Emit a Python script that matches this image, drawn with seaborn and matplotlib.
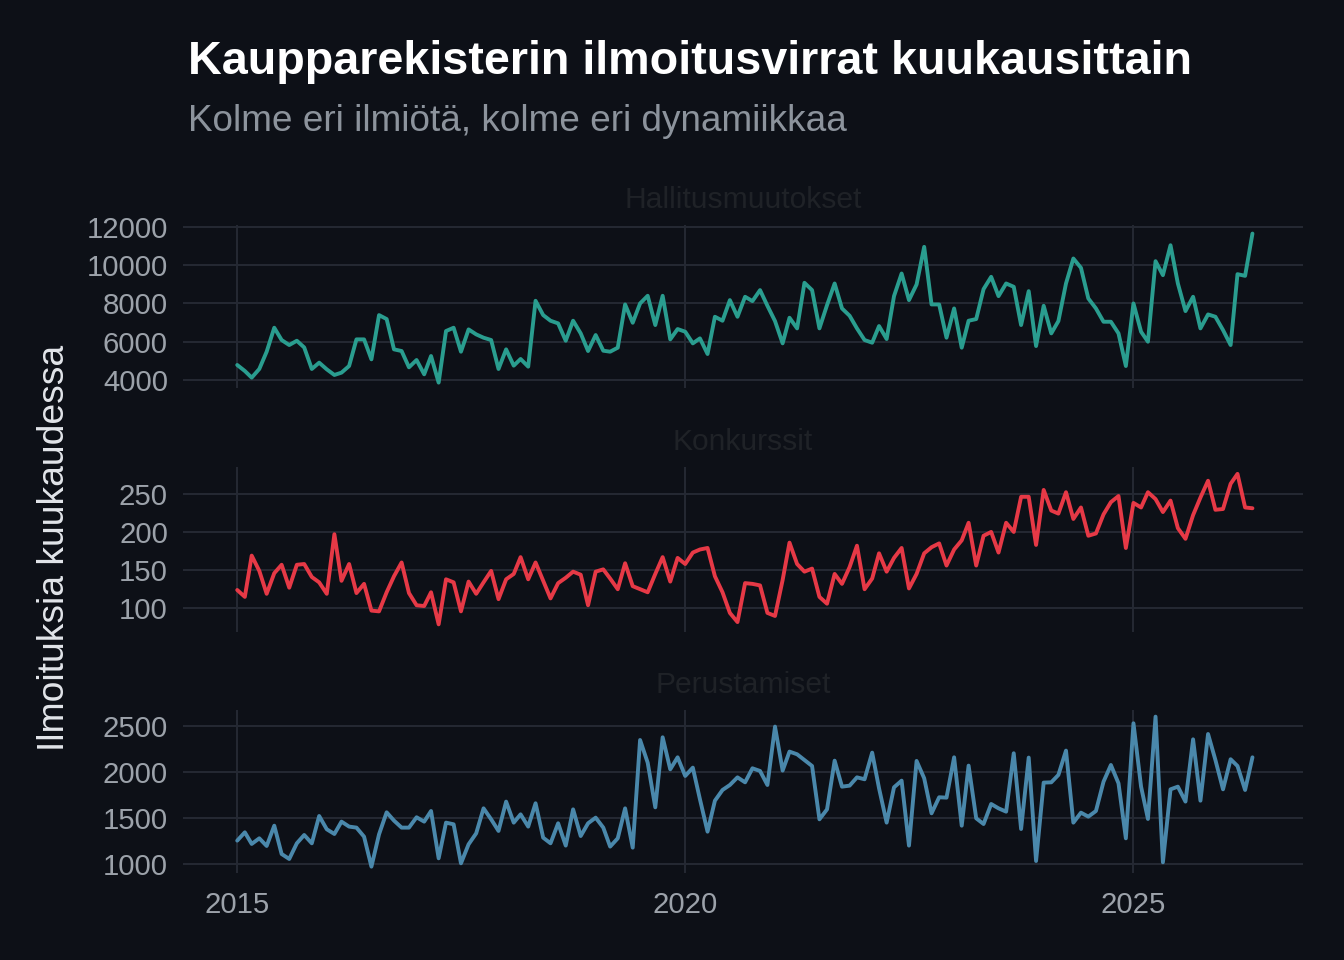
import numpy as np
import pandas as pd
import matplotlib
matplotlib.use("Agg")
import matplotlib.pyplot as plt
import matplotlib.dates as mdates
import seaborn as sns

# monthly values, 2015-01 .. 2026-05
months = pd.date_range("2015-01-01", "2026-05-01", freq="MS")

hallitusmuutokset = [
    4783, 4470, 4122, 4574, 5478, 6730, 6087, 5826, 6050, 5700,
    4574, 4904, 4556, 4261, 4383, 4730, 6122, 6122, 5078, 7391,
    7183, 5600, 5513, 4661, 5043, 4296, 5252, 3861, 6557, 6730,
    5478, 6643, 6383, 6209, 6087, 4574, 5600, 4748, 5096, 4696,
    8139, 7391, 7096, 6957, 6050, 7096, 6435, 5513, 6348, 5530,
    5478, 5687, 7948, 6991, 8000, 8400, 6870, 8400, 6122, 6661,
    6522, 5913, 6174, 5357, 7304, 7096, 8174, 7304, 8348, 8122,
    8696, 7878, 7078, 5913, 7252, 6696, 9078, 8696, 6696, 7913,
    9043, 7739, 7357, 6696, 6087, 5948, 6817, 6139, 8383, 9565,
    8174, 8991, 10957, 7948, 7948, 6209, 7739, 5687, 7096, 7183,
    8748, 9391, 8383, 9043, 8870, 6870, 8643, 5774, 7878, 6435,
    7078, 9043, 10348, 9861, 8261, 7739, 7043, 7043, 6435, 4730,
    8000, 6522, 6000, 10209, 9478, 11043, 9043, 7600, 8348, 6696,
    7426, 7304, 6609, 5826, 9530, 9443, 11652,
]

konkurssit = [
    124, 115, 169, 149, 119, 146, 157, 127, 157, 158,
    141, 134, 119, 197, 136, 158, 120, 132, 97, 96,
    121, 142, 160, 120, 104, 103, 121, 79, 138, 134,
    96, 135, 119, 134, 149, 112, 138, 145, 167, 138,
    160, 136, 113, 133, 140, 148, 144, 104, 148, 151,
    139, 125, 159, 129, 125, 121, 145, 167, 135, 166,
    158, 173, 177, 179, 142, 121, 94, 82, 133, 132,
    130, 94, 90, 137, 186, 158, 148, 152, 115, 106,
    145, 132, 154, 182, 125, 139, 172, 148, 166, 179,
    126, 145, 172, 180, 185, 156, 177, 189, 212, 156,
    195, 200, 173, 212, 200, 246, 246, 183, 255, 228,
    224, 252, 217, 232, 195, 198, 223, 239, 247, 179,
    238, 232, 252, 243, 226, 241, 205, 191, 222, 245,
    267, 229, 230, 263, 276, 232, 231,
]

perustamiset = [
    1257, 1347, 1221, 1282, 1199, 1419, 1112, 1058, 1228, 1318,
    1228, 1524, 1380, 1329, 1463, 1409, 1398, 1300, 975, 1325,
    1564, 1474, 1398, 1398, 1510, 1463, 1578, 1065, 1452, 1434,
    1011, 1217, 1336, 1607, 1488, 1362, 1680, 1452, 1542, 1409,
    1662, 1289, 1228, 1445, 1203, 1596, 1307, 1445, 1506, 1398,
    1192, 1282, 1607, 1181, 2348, 2102, 1618, 2377, 2030, 2160,
    1958, 2048, 1705, 1354, 1690, 1806, 1860, 1943, 1889, 2041,
    2012, 1860, 2493, 2016, 2222, 2193, 2131, 2066, 1488, 1596,
    2124, 1842, 1853, 1943, 1922, 2211, 1824, 1452, 1835, 1907,
    1203, 2121, 1933, 1553, 1727, 1723, 2160, 1419, 2070, 1499,
    1437, 1654, 1607, 1571, 2204, 1383, 2157, 1036, 1886, 1889,
    1969, 2233, 1452, 1560, 1517, 1578, 1896, 2077, 1878, 1282,
    2529, 1842, 1492, 2601, 1022, 1813, 1842, 1680, 2355, 1690,
    2413, 2131, 1813, 2139, 2066, 1806, 2160,
]

panel_names = ["Hallitusmuutokset", "Konkurssit", "Perustamiset"]
panel_values = [hallitusmuutokset, konkurssit, perustamiset]
panel_colors = ["#2a9d8f", "#e63946", "#4a88ab"]
panel_yticks = [
    [4000, 6000, 8000, 10000, 12000],
    [100, 150, 200, 250],
    [1000, 1500, 2000, 2500],
]
panel_ylims = [(3580, 12100), (69, 285), (906, 2673)]

bg = "#0d1017"
grid_col = "#252933"
tick_col = "#9ca2aa"

sns.set_theme(style="dark")
plt.rcParams["font.family"] = ["Liberation Sans", "DejaVu Sans"]

fig = plt.figure(figsize=(6.72, 4.8), dpi=200, facecolor=bg)

left, width = 183 / 1344, (1303 - 183) / 1344
panel_px = [(225, 388), (467, 632), (710, 873)]

for k, name in enumerate(panel_names):
    top, bottom = panel_px[k]
    ax = fig.add_axes([left, 1 - bottom / 960, width, (bottom - top) / 960])
    ax.set_facecolor(bg)
    df = pd.DataFrame({"kuukausi": months, "arvo": panel_values[k]})
    sns.lineplot(data=df, x="kuukausi", y="arvo", ax=ax,
                 color=panel_colors[k], linewidth=1.4)
    ax.set_xlim(months[0] - pd.Timedelta(days=221),
                months[-1] + pd.Timedelta(days=206))
    ax.set_ylim(*panel_ylims[k])
    ax.set_yticks(panel_yticks[k])
    ax.set_yticklabels([str(t) for t in panel_yticks[k]])
    ax.xaxis.set_major_locator(mdates.YearLocator(5))
    ax.xaxis.set_major_formatter(mdates.DateFormatter("%Y"))
    ax.grid(True, color=grid_col, linewidth=0.7)
    for s in ax.spines.values():
        s.set_visible(False)
    ax.tick_params(length=0, colors=tick_col, labelsize=10.6)
    ax.tick_params(axis="y", pad=5.4)
    ax.tick_params(axis="x", pad=6.5)
    if k < 2:
        ax.tick_params(axis="x", labelbottom=False)
    ax.set_xlabel("")
    ax.set_ylabel("")
    ax.set_title(name, color="#1f2227", fontsize=10.8, pad=6.0)

fig.text(188 / 1344, 1 - 74 / 960, "Kaupparekisterin ilmoitusvirrat kuukausittain",
         color="white", fontsize=16.85, fontweight="bold", va="baseline", ha="left")
fig.text(188 / 1344, 1 - 131 / 960, "Kolme eri ilmiötä, kolme eri dynamiikkaa",
         color="#8c939c", fontsize=13.3, va="baseline", ha="left")
fig.text(55 / 1344, 1 - 548 / 960, "Ilmoituksia kuukaudessa", color="#e2e5ea",
         fontsize=13.4, rotation=90, va="center", ha="center")

fig.savefig("out.png", dpi=200, facecolor=bg)
